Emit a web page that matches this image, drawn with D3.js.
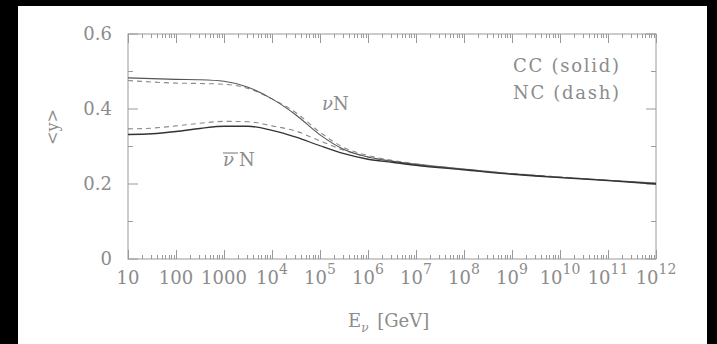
<!DOCTYPE html>
<html><head><meta charset="utf-8">
<script src="https://cdn.jsdelivr.net/npm/d3@7"></script>
<style>
html,body{margin:0;padding:0;background:#000;}
svg{display:block;}
text{font-family:"DejaVu Serif",serif;fill:#8c8c8c;}
</style></head>
<body>
<svg id="c" width="717" height="344"></svg>
<script>
// log10(E/GeV) sample points
const logE = [1, 1.5, 2, 2.5, 3, 3.5, 4, 4.5, 5, 5.5, 6, 6.5, 7, 8, 9, 10, 11, 12];
const nuCC    = [0.483,0.481,0.479,0.478,0.474,0.458,0.427,0.384,0.331,0.292,0.272,0.261,0.252,0.239,0.227,0.218,0.210,0.201];
const nuNC    = [0.476,0.472,0.469,0.468,0.466,0.455,0.427,0.390,0.338,0.297,0.276,0.263,0.254,0.240,0.228,0.219,0.210,0.203];
const nubarCC = [0.332,0.334,0.340,0.348,0.354,0.354,0.343,0.325,0.302,0.281,0.266,0.258,0.250,0.238,0.226,0.217,0.209,0.200];
const nubarNC = [0.347,0.349,0.355,0.362,0.367,0.366,0.355,0.341,0.315,0.290,0.272,0.260,0.253,0.240,0.227,0.218,0.210,0.203];
const xTickExp = [1,2,3,4,5,6,7,8,9,10,11,12];
const xTickLabels = ["10","100","1000","10^4","10^5","10^6","10^7","10^8","10^9","10^10","10^11","10^12"];
const yTicks = [0, 0.2, 0.4, 0.6];
const yTickLabels = ["0","0.2","0.4","0.6"];

const svg = d3.select("#c");
svg.append("rect").attr("x",18).attr("y",6).attr("width",689).attr("height",338).attr("fill","#fff");

const L=128, R=656, T=34, B=259;
const x = d3.scaleLog().domain([10,1e12]).range([L,R]);
const y = d3.scaleLinear().domain([0,0.6]).range([B,T]);

const axisColor = "#9a9a9a";
const g = svg.append("g");
g.append("rect").attr("x",L).attr("y",T).attr("width",R-L).attr("height",B-T)
  .attr("fill","none").attr("stroke",axisColor).attr("stroke-width",1);

const minor = [];
for (let e=1;e<12;e++) for (let m=2;m<=9;m++) minor.push(m*Math.pow(10,e));
const majorVals = xTickExp.map(e=>Math.pow(10,e));
function tickLines(vals,len){
  vals.forEach(v=>{
    const px=Math.round(x(v))+0.5;
    g.append("line").attr("x1",px).attr("x2",px).attr("y1",B).attr("y2",B-len).attr("stroke",axisColor);
    g.append("line").attr("x1",px).attr("x2",px).attr("y1",T).attr("y2",T+len).attr("stroke",axisColor);
  });
}
tickLines(majorVals,9);
tickLines(minor,4);

const yMinor=[0.1,0.3,0.5];
yTicks.forEach(v=>{
  g.append("line").attr("x1",L).attr("x2",L+10).attr("y1",y(v)).attr("y2",y(v)).attr("stroke",axisColor);
  g.append("line").attr("x1",R).attr("x2",R-10).attr("y1",y(v)).attr("y2",y(v)).attr("stroke",axisColor);
});
yMinor.forEach(v=>{
  g.append("line").attr("x1",L).attr("x2",L+5).attr("y1",y(v)).attr("y2",y(v)).attr("stroke",axisColor);
  g.append("line").attr("x1",R).attr("x2",R-5).attr("y1",y(v)).attr("y2",y(v)).attr("stroke",axisColor);
});

xTickLabels.forEach((lab,i)=>{
  const px = x(majorVals[i]);
  const t = g.append("text").attr("x",px).attr("y",284).attr("text-anchor","middle").attr("font-size",18);
  if (lab.includes("^")) {
    const [b,s]=lab.split("^");
    t.append("tspan").text(b);
    t.append("tspan").attr("dy",-10).attr("font-size",14).text(s);
  } else t.text(lab);
});
yTicks.forEach((v,i)=>{
  g.append("text").attr("x",112).attr("y",y(v)+6).attr("text-anchor","end").attr("font-size",18).text(yTickLabels[i]);
});

g.append("text").attr("transform","translate(58,127) rotate(-90)").attr("text-anchor","middle")
  .attr("font-size",16).text("<y>");
const xt = g.append("text").attr("x",348).attr("y",327).attr("font-size",18);
xt.append("tspan").text("E");
xt.append("tspan").attr("dy",5).attr("font-size",12).attr("font-style","italic").text("ν");
xt.append("tspan").attr("dy",-5).attr("dx",3).text(" [GeV]");

const line = d3.line().x(d=>x(Math.pow(10,d[0]))).y(d=>y(d[1])).curve(d3.curveMonotoneX);
function draw(vals,color,dash,w){
  g.append("path").datum(logE.map((e,i)=>[e,vals[i]])).attr("d",line)
   .attr("fill","none").attr("stroke",color).attr("stroke-width",w)
   .attr("stroke-dasharray",dash||null);
}
draw(nuNC,"#8a8a8a","5,4",1.1);
draw(nubarNC,"#8a8a8a","5,4",1.1);
draw(nuCC,"#555",null,1.1);
draw(nubarCC,"#333",null,1.3);

const l1 = g.append("text").attr("x",322).attr("y",110).attr("font-size",18);
l1.append("tspan").attr("font-style","italic").text("ν");
l1.append("tspan").text("N");
const l2 = g.append("text").attr("x",223).attr("y",166).attr("font-size",18);
l2.append("tspan").attr("font-style","italic").text("ν");
l2.append("tspan").attr("dx",5).text("N");
g.append("line").attr("x1",223).attr("x2",238).attr("y1",153).attr("y2",153).attr("stroke","#8c8c8c").attr("stroke-width",1.2);

g.append("text").attr("x",513).attr("y",72).attr("font-size",18).attr("textLength",106).attr("lengthAdjust","spacing").text("CC (solid)");
g.append("text").attr("x",513).attr("y",99).attr("font-size",18).attr("textLength",106).attr("lengthAdjust","spacing").text("NC (dash)");
</script>
</body></html>
